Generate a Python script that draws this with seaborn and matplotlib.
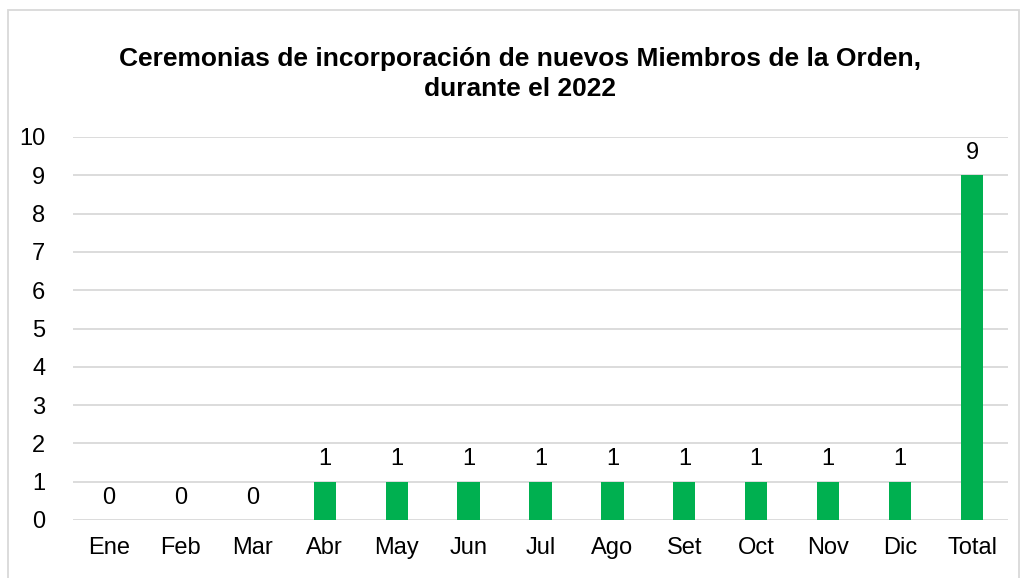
import matplotlib
matplotlib.use("Agg")
import matplotlib.pyplot as plt
import seaborn as sns
import pandas as pd
from matplotlib.patches import Rectangle

months = ["Ene", "Feb", "Mar", "Abr", "May", "Jun", "Jul", "Ago", "Set", "Oct", "Nov", "Dic", "Total"]
values = [0, 0, 0, 1, 1, 1, 1, 1, 1, 1, 1, 1, 9]
yticks = list(range(0, 11))

sns.set_theme(style="white")
plt.rcParams['font.family'] = ['Liberation Sans Narrow', 'Liberation Sans', 'DejaVu Sans']
plt.rcParams['text.color'] = 'black'

df = pd.DataFrame({"mes": months, "n": values})

fig = plt.figure(figsize=(10.27, 5.78), dpi=100)
ax = fig.add_axes([73/1027, 1 - 520/578, (1008 - 73)/1027, (520 - 137)/578])

sns.barplot(data=df, x="mes", y="n", color="#00B050", width=0.31, ax=ax,
            saturation=1, edgecolor="none")

ax.set_ylim(0, 10)
ax.set_yticks(yticks)
ax.yaxis.grid(True, color="#D9D9D9", linewidth=1.3)
ax.set_axisbelow(True)
for s in ax.spines.values():
    s.set_visible(False)
ax.set_xlabel("")
ax.set_ylabel("")
ax.tick_params(axis="both", labelsize=17, colors="black", length=0)
ax.tick_params(axis="y", pad=20)
ax.tick_params(axis="x", pad=12)

for i, v in enumerate(values):
    ax.text(i, v + 0.3, str(v), ha="center", va="bottom", fontsize=17, color="black")

fig.text(520/1027, 1 - 74/578, "Ceremonias de incorporación de nuevos Miembros de la Orden,\ndurante el 2022",
         ha="center", va="center", fontsize=19, fontweight="bold", linespacing=1.3, color="black")

fig.patches.append(Rectangle((8/1027, -0.05), (1019 - 8)/1027, 1 - 10/578 + 0.05,
                             transform=fig.transFigure, fill=False,
                             edgecolor="#D9D9D9", linewidth=1.3))

fig.savefig("out.png", dpi=100)
